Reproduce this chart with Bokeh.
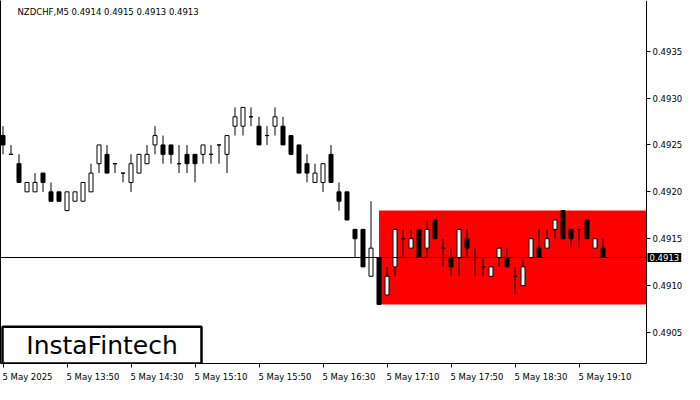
from bokeh.plotting import figure
from bokeh.models import Range1d, LinearAxis, FixedTicker, Label, ColumnDataSource
from bokeh.core.properties import value
from bokeh.embed import file_html
from bokeh.resources import INLINE

# ---------------- data ----------------
symbol = "NZDCHF,M5"
brand = "InstaFintech"

opens = [0.4926, 0.4924, 0.4923, 0.4920, 0.4920, 0.4922, 0.4920, 0.4920, 0.4918, 0.4919,
         0.4919, 0.4920, 0.4923, 0.4924, 0.4923, 0.4922, 0.4921, 0.4922, 0.4923, 0.4925,
         0.4925, 0.4925, 0.4923, 0.4924, 0.4924, 0.4924, 0.4924, 0.4925, 0.4924, 0.4927,
         0.4927, 0.4928, 0.4927, 0.4926, 0.4927, 0.4927, 0.4926, 0.4925, 0.4923, 0.4921,
         0.4921, 0.4924, 0.4920, 0.4920, 0.4916, 0.4916, 0.4911, 0.4913, 0.4909, 0.4912,
         0.4915, 0.4914, 0.4916, 0.4914, 0.4917, 0.4914, 0.4913, 0.4913, 0.4915, 0.4913,
         0.4912, 0.4911, 0.4913, 0.4913, 0.4911, 0.4910, 0.4913, 0.4914, 0.4914, 0.4916,
         0.4918, 0.4916, 0.4916, 0.4917, 0.4914, 0.4914]
highs = [0.4927, 0.4925, 0.4924, 0.4921, 0.4922, 0.4922, 0.4921, 0.4920, 0.4920, 0.4920,
         0.4921, 0.4923, 0.4925, 0.4925, 0.4923, 0.4922, 0.4924, 0.4924, 0.4925, 0.4927,
         0.4926, 0.4925, 0.4925, 0.4925, 0.4924, 0.4925, 0.4925, 0.4925, 0.4926, 0.4929,
         0.4929, 0.4929, 0.4928, 0.4927, 0.4929, 0.4928, 0.4926, 0.4925, 0.4924, 0.4923,
         0.4923, 0.4925, 0.4921, 0.4920, 0.4916, 0.4916, 0.4919, 0.4913, 0.4912, 0.4916,
         0.4916, 0.4916, 0.4916, 0.4917, 0.4917, 0.4915, 0.4914, 0.4916, 0.4916, 0.4914,
         0.4913, 0.4912, 0.4914, 0.4914, 0.4912, 0.4913, 0.4915, 0.4916, 0.4916, 0.4917,
         0.4918, 0.4916, 0.4916, 0.4917, 0.4915, 0.4915]
lows = [0.4924, 0.4924, 0.4921, 0.4920, 0.4920, 0.4920, 0.4919, 0.4919, 0.4918, 0.4919,
        0.4919, 0.4920, 0.4922, 0.4922, 0.4922, 0.4921, 0.4920, 0.4922, 0.4923, 0.4924,
        0.4923, 0.4923, 0.4922, 0.4922, 0.4921, 0.4923, 0.4923, 0.4923, 0.4922, 0.4926,
        0.4926, 0.4927, 0.4925, 0.4925, 0.4926, 0.4925, 0.4924, 0.4922, 0.4921, 0.4921,
        0.4920, 0.4921, 0.4918, 0.4917, 0.4913, 0.4912, 0.4911, 0.4908, 0.4909, 0.4911,
        0.4913, 0.4914, 0.4913, 0.4913, 0.4915, 0.4912, 0.4911, 0.4911, 0.4913, 0.4911,
        0.4911, 0.4911, 0.4912, 0.4912, 0.4909, 0.4910, 0.4913, 0.4913, 0.4914, 0.4915,
        0.4915, 0.4914, 0.4914, 0.4915, 0.4914, 0.4913]
closes = [0.4925, 0.4924, 0.4921, 0.4921, 0.4921, 0.4921, 0.4919, 0.4919, 0.4920, 0.4920,
          0.4921, 0.4922, 0.4925, 0.4922, 0.4923, 0.4922, 0.4923, 0.4924, 0.4924, 0.4926,
          0.4924, 0.4924, 0.4923, 0.4923, 0.4923, 0.4925, 0.4924, 0.4925, 0.4926, 0.4928,
          0.4929, 0.4928, 0.4925, 0.4926, 0.4928, 0.4925, 0.4924, 0.4922, 0.4922, 0.4922,
          0.4923, 0.4921, 0.4919, 0.4917, 0.4915, 0.4912, 0.4914, 0.4908, 0.4911, 0.4916,
          0.4915, 0.4915, 0.4913, 0.4916, 0.4915, 0.4914, 0.4912, 0.4916, 0.4914, 0.4913,
          0.4912, 0.4912, 0.4914, 0.4912, 0.4911, 0.4912, 0.4915, 0.4913, 0.4915, 0.4917,
          0.4915, 0.4915, 0.4916, 0.4915, 0.4915, 0.4913]

pattern_start = 47  # first candle of the rectangle pattern

time_tick_index = [0, 8, 16, 24, 32, 40, 48, 56, 64, 72]
time_tick_labels = ["5 May 2025", "5 May 13:50", "5 May 14:30", "5 May 15:10", "5 May 15:50",
                    "5 May 16:30", "5 May 17:10", "5 May 17:50", "5 May 18:30", "5 May 19:10"]

price_ticks = [0.4905, 0.4910, 0.4915, 0.4920, 0.4925, 0.4930, 0.4935]
price_tick_labels = ["0.4905", "0.4910", "0.4915", "0.4920", "0.4925", "0.4930", "0.4935"]

# ---------------- layout constants ----------------
W, H = 684, 384
BOTTOM_PANEL = 15
FRAME_W = W
FRAME_H_EST = 365
PX_PER_BAR = 8.0
AXIS_PX = 646                      # where the price axis line sits (px from left)
x_start = -0.3125
x_end = x_start + FRAME_W / PX_PER_BAR
axis_x = x_start + AXIS_PX / PX_PER_BAR
y_start, y_end = 0.49017, 0.49404
y_per_px = (y_end - y_start) / FRAME_H_EST
FONT = "DejaVu Sans"
FS = "8.5px"

# approximate DejaVu Sans advance widths (em) to left-align time labels at their ticks
_cw = {" ": 0.318, "M": 0.863, "a": 0.613, "y": 0.592, ":": 0.337}
def text_px(s, size=8.5):
    return sum(_cw.get(ch, 0.636) for ch in s) * size

idx = list(range(len(opens)))
body_top = [max(o, c) for o, c in zip(opens, closes)]
body_bot = [min(o, c) for o, c in zip(opens, closes)]
body_col = ["white" if c >= o else "black" for o, c in zip(opens, closes)]
src = ColumnDataSource(dict(x=idx, o=opens, h=highs, l=lows, c=closes,
                            bt=body_top, bb=body_bot, col=body_col))

p = figure(width=W, height=H, output_backend="svg", toolbar_location=None,
           x_range=Range1d(x_start, x_end), y_range=Range1d(y_start, y_end),
           y_axis_location="right", min_border_left=0, min_border_top=0,
           min_border_right=0, min_border_bottom=BOTTOM_PANEL,
           background_fill_color="white", border_fill_color="white")
p.outline_line_color = None
p.xgrid.visible = False
p.ygrid.visible = False

# rectangle pattern
rect_top = max(highs[pattern_start:])
rect_bot = min(lows[pattern_start:])
p.quad(left=[pattern_start], right=[axis_x], top=[rect_top], bottom=[rect_bot],
       fill_color="#ff0000", line_color=None)

# candles
p.segment(x0="x", y0="h", x1="x", y1="l", source=src, line_color="black", line_width=1)
p.vbar(x="x", width=0.5, top="bt", bottom="bb", source=src,
       fill_color="col", line_color="black", line_width=1)

# current price line (bid line)
p.segment(x0=[x_start], x1=[axis_x], y0=[closes[-1]], y1=[closes[-1]],
          line_color="black", line_width=1)

# right price axis, pinned at axis_x so that its labels sit inside the canvas
ya = p.yaxis[0]
ya.fixed_location = axis_x
ya.ticker = FixedTicker(ticks=price_ticks)
ya.major_label_overrides = {t: s for t, s in zip(price_ticks, price_tick_labels)}
ya.major_tick_out = 4
ya.major_tick_in = 0
ya.minor_tick_out = 0
ya.minor_tick_in = 0
ya.major_label_standoff = 2
ya.major_label_text_font = FONT
ya.major_label_text_font_size = FS
ya.major_label_text_color = "black"
ya.axis_line_color = "black"

# bottom time axis: tick marks (minor) at the candles, labels left-aligned after them
label_pos = [t + (text_px(s) / 2 - 0.5) / PX_PER_BAR for t, s in zip(time_tick_index, time_tick_labels)]
xa = p.xaxis[0]
xa.bounds = (x_start, axis_x)
xa.ticker = FixedTicker(ticks=label_pos, minor_ticks=time_tick_index)
xa.major_label_overrides = {pos: s for pos, s in zip(label_pos, time_tick_labels)}
xa.major_tick_out = 0
xa.major_tick_in = 0
xa.major_tick_line_color = None
xa.minor_tick_out = 4
xa.minor_tick_in = 0
xa.minor_tick_line_color = "black"
xa.major_label_standoff = 4
xa.major_label_text_font = FONT
xa.major_label_text_font_size = FS
xa.major_label_text_color = "black"
xa.axis_line_color = "black"

left_line = LinearAxis(ticker=FixedTicker(ticks=[]), major_tick_out=0, major_tick_in=0,
                       minor_tick_out=0, minor_tick_in=0, major_label_standoff=0,
                       axis_line_color="black")
p.add_layout(left_line, "left")

# title
title = f"{symbol}  {opens[-1]:.4f} {highs[-1]:.4f} {lows[-1]:.4f} {closes[-1]:.4f}"
p.add_layout(Label(x=x_start, y=y_end, x_offset=17, y_offset=-6, text=title,
                   text_font=FONT, text_font_size=FS, text_color="black",
                   text_baseline="top", text_align="left"))

# current price tag on the axis
p.add_layout(Label(x=axis_x, y=closes[-1], x_offset=1, text=f"{closes[-1]:.4f}",
                   text_font=FONT, text_font_size=FS, text_color="white",
                   text_baseline="middle", text_align="left",
                   background_fill_color="black", padding=(2, 1)))

# logo box
bx0 = x_start + 2 / PX_PER_BAR
bx1 = x_start + 201 / PX_PER_BAR
by0 = y_start
by1 = y_start + 37 * y_per_px
p.quad(left=[bx0], right=[bx1], top=[by1], bottom=[by0], fill_color="white",
       line_color="black", line_width=2.5)
p.text(x=[(bx0 + bx1) / 2], y=[(by0 + by1) / 2], text=[brand], text_align="center",
       text_baseline="middle", text_font=value(FONT), text_font_size="25px",
       text_color="black")

open("out.html", "w").write(file_html(p, INLINE))
